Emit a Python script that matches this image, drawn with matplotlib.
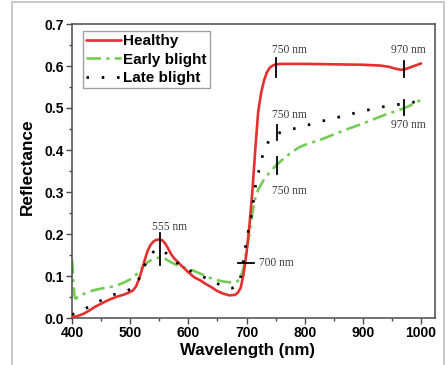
import matplotlib
matplotlib.use("Agg")
import matplotlib.pyplot as plt
from matplotlib.patches import Rectangle
from matplotlib.ticker import MultipleLocator

# ---------------- data ----------------
healthy_nm = [400, 405, 410, 420, 430, 440, 450, 460, 470, 480, 490, 500, 505, 510, 515,
              520, 525, 530, 535, 540, 545, 550, 555, 560, 565, 570, 575, 580, 590, 600,
              610, 620, 630, 640, 650, 660, 670, 680, 685, 690, 695, 700, 705, 710, 715,
              720, 725, 730, 735, 740, 745, 750, 760, 800, 850, 900, 930, 945, 955, 965,
              972, 980, 990, 1000]
healthy_r = [0.002, 0.003, 0.005, 0.010, 0.018, 0.027, 0.034, 0.041, 0.047, 0.052, 0.056,
             0.062, 0.066, 0.075, 0.092, 0.114, 0.138, 0.160, 0.174, 0.182, 0.186, 0.187,
             0.185, 0.178, 0.166, 0.153, 0.143, 0.136, 0.122, 0.109, 0.097, 0.090, 0.081,
             0.073, 0.064, 0.058, 0.054, 0.055, 0.060, 0.072, 0.105, 0.155, 0.220, 0.300,
             0.400, 0.490, 0.535, 0.565, 0.585, 0.596, 0.601, 0.604, 0.605, 0.605, 0.604,
             0.603, 0.601, 0.598, 0.594, 0.591, 0.592, 0.596, 0.601, 0.606]

early_nm = [400, 401, 402, 404, 406, 410, 420, 430, 440, 450, 460, 470, 480, 490, 500,
            510, 520, 530, 540, 550, 555, 560, 570, 580, 590, 600, 610, 620, 630, 640,
            650, 660, 670, 680, 685, 690, 695, 700, 705, 710, 715, 720, 730, 740, 750,
            760, 775, 790, 800, 830, 850, 870, 900, 920, 940, 960, 970, 980, 990, 1000]
early_r = [0.140, 0.120, 0.090, 0.055, 0.046, 0.050, 0.057, 0.063, 0.067, 0.070, 0.072,
           0.075, 0.079, 0.085, 0.092, 0.103, 0.118, 0.133, 0.141, 0.144, 0.144, 0.141,
           0.133, 0.126, 0.122, 0.117, 0.112, 0.106, 0.100, 0.094, 0.090, 0.087, 0.085,
           0.085, 0.088, 0.097, 0.120, 0.160, 0.200, 0.250, 0.285, 0.305, 0.330, 0.347,
           0.362, 0.375, 0.392, 0.406, 0.412, 0.426, 0.437, 0.448, 0.463, 0.474, 0.485,
           0.494, 0.499, 0.505, 0.512, 0.520]

late_nm = [400, 410, 424, 435, 447, 460, 470, 480, 494, 505, 515, 525, 535, 543, 550,
           556, 565, 575, 590, 600, 614, 627, 640, 650, 660, 666, 675, 683, 688, 694,
           700, 706, 710, 713, 717, 723, 729, 737, 745, 752, 760, 770, 795, 821, 846,
           872, 898, 924, 947, 970, 985, 1000]
late_r = [0.008, 0.013, 0.023, 0.032, 0.040, 0.048, 0.055, 0.059, 0.064, 0.073, 0.093,
          0.126, 0.150, 0.162, 0.165, 0.162, 0.150, 0.137, 0.122, 0.114, 0.105, 0.097,
          0.089, 0.082, 0.075, 0.071, 0.071, 0.076, 0.083, 0.130, 0.186, 0.226, 0.257,
          0.293, 0.329, 0.360, 0.395, 0.418, 0.430, 0.438, 0.443, 0.447, 0.455, 0.466,
          0.474, 0.483, 0.492, 0.500, 0.506, 0.510, 0.513, 0.520]

series_labels = ["Healthy", "Early blight", "Late blight"]

# annotation markers: (x, y0, y1) vertical ticks; labels (text, x, y)
vmarks_x = [551, 751, 971, 752, 752, 971]
vmarks_y0 = [0.126, 0.575, 0.573, 0.424, 0.344, 0.483]
vmarks_y1 = [0.202, 0.620, 0.611, 0.460, 0.384, 0.519]
hmark_x0, hmark_x1, hmark_y = 685, 713, 0.132
ann_text = ["555 nm", "750 nm", "970 nm", "750 nm", "750 nm", "970 nm", "700 nm"]
ann_x = [567.6, 774.6, 979, 774.6, 774.6, 979, 722]
ann_y = [0.217, 0.638, 0.638, 0.483, 0.303, 0.460, 0.132]
ann_ha = ["center", "center", "center", "center", "center", "center", "left"]

# ---------------- figure ----------------
W, H = 448, 365
fig = plt.figure(figsize=(W / 100, H / 100), dpi=100)
fig.patch.set_facecolor("white")
plt.rcParams["font.family"] = ["Liberation Sans", "DejaVu Sans"]

# outer light frame
fig.add_artist(Rectangle((12 / W, -0.2), (444 - 12) / W, 1.2 - 1.5 / H,
                         transform=fig.transFigure, fill=False,
                         edgecolor="#c4c4c4", lw=1.3, clip_on=False))

ax = fig.add_axes([72 / W, (H - 318) / H, (435 - 72) / W, (318 - 24) / H])

red = "#e2312e"
green = "#74cc55"

ax.plot(healthy_nm, healthy_r, color=red, lw=1.9, label=series_labels[0],
        solid_capstyle="round", zorder=3)
ax.plot(early_nm, early_r, color=green, lw=1.9, dashes=(5.5, 2.0, 1.2, 2.0),
        label=series_labels[1], zorder=2)
ax.plot(late_nm, late_r, color="black", lw=2.0, dashes=(0.9, 4.6),
        label=series_labels[2], zorder=4)

for x, y0, y1 in zip(vmarks_x, vmarks_y0, vmarks_y1):
    ax.plot([x, x], [y0, y1], color="black", lw=1.3, zorder=5)
ax.plot([hmark_x0, hmark_x1], [hmark_y, hmark_y], color="black", lw=1.3, zorder=5)

for t, x, y, ha in zip(ann_text, ann_x, ann_y, ann_ha):
    ax.text(x, y, t, ha=ha, va="center", fontsize=8.3, color="#3a3a3a",
            family=["Liberation Serif", "DejaVu Serif"], zorder=6)

ax.set_xlim(400, 1024)
ax.set_ylim(0, 0.7)
ax.xaxis.set_major_locator(MultipleLocator(100))
ax.xaxis.set_minor_locator(MultipleLocator(50))
ax.yaxis.set_major_locator(MultipleLocator(0.1))
ax.yaxis.set_minor_locator(MultipleLocator(0.05))
ax.yaxis.set_major_formatter(plt.FormatStrFormatter("%.1f"))

spine_c = "#4a4a4a"
for s in ax.spines.values():
    s.set_color(spine_c)
    s.set_linewidth(1.1)
ax.tick_params(which="both", direction="out", colors=spine_c, width=1.0,
               labelcolor="black")
ax.tick_params(which="major", length=4, labelsize=10, pad=2)
ax.tick_params(which="minor", length=2.5)
for lab in ax.get_xticklabels() + ax.get_yticklabels():
    lab.set_fontweight("bold")

ax.set_xlabel("Wavelength (nm)", fontsize=12.2, fontweight="bold")
ax.set_ylabel("Reflectance", fontsize=12.4, fontweight="bold")
ax.xaxis.set_label_coords((247 - 72) / 363, -(343 - 318) / 294)
ax.yaxis.set_label_coords((35 - 72) / 363, (318 - 166.5) / 294)

leg = ax.legend(loc="upper left", bbox_to_anchor=(0.03, 0.976), borderaxespad=0,
                prop={"weight": "bold", "size": 11}, handlelength=2.3,
                handletextpad=0.15, borderpad=0.2, labelspacing=0.3,
                fancybox=False, frameon=True)
leg.get_frame().set_edgecolor("#888888")
leg.get_frame().set_linewidth(1.0)

fig.savefig("out.png", dpi=100, facecolor="white")
